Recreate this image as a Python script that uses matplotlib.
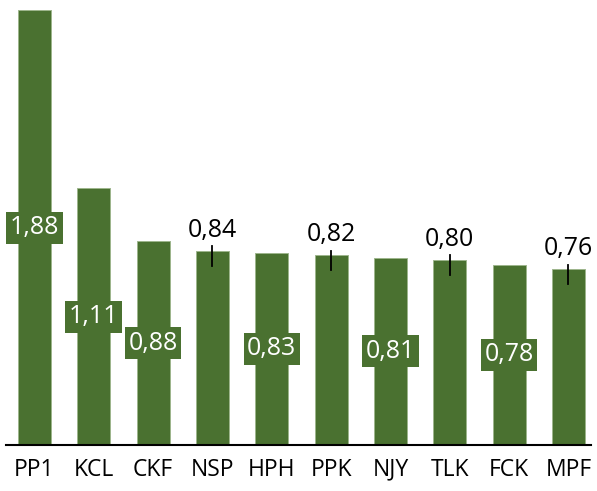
import matplotlib.pyplot as plt

codes = ["PP1", "KCL", "CKF", "NSP", "HPH", "PPK", "NJY", "TLK", "FCK", "MPF"]
values = [1.88, 1.11, 0.88, 0.84, 0.83, 0.82, 0.81, 0.80, 0.78, 0.76]
labels_above = ["NSP", "PPK", "TLK", "MPF"]

green = "#4A7130"
plt.rcParams['font.family'] = ['Open Sans', 'DejaVu Sans']

fig = plt.figure(figsize=(5.97, 4.91), dpi=100)
ax = fig.add_axes([6 / 597, 46 / 491, 585 / 597, 435 / 491])

x = list(range(len(codes)))
ax.bar(x, values, width=0.56, color=green, edgecolor="#9DB58C", linewidth=0.7)

for i, (c, v) in enumerate(zip(codes, values)):
    txt = "{:.2f}".format(v).replace(".", ",")
    if c in labels_above:
        ax.plot([i, i], [v - 0.065, v + 0.02], color="black", linewidth=1.3)
        ax.annotate(txt, (i, v + 0.035), ha="center", va="bottom",
                    fontsize=18, color="black")
    else:
        ax.text(i, v / 2, txt, ha="center", va="center", fontsize=18,
                color="white",
                bbox=dict(boxstyle="square,pad=0.14", facecolor=green,
                          edgecolor="none"))

ax.set_xlim(-0.48, 9.38)
ax.set_ylim(0, 1.88)
for s in ["top", "right", "left"]:
    ax.spines[s].set_visible(False)
ax.spines["bottom"].set_linewidth(1.5)
ax.set_yticks([])
ax.set_xticks(x)
ax.set_xticklabels(codes, fontsize=16.5)
ax.tick_params(axis="x", length=0, pad=9)

fig.savefig("out.png")
